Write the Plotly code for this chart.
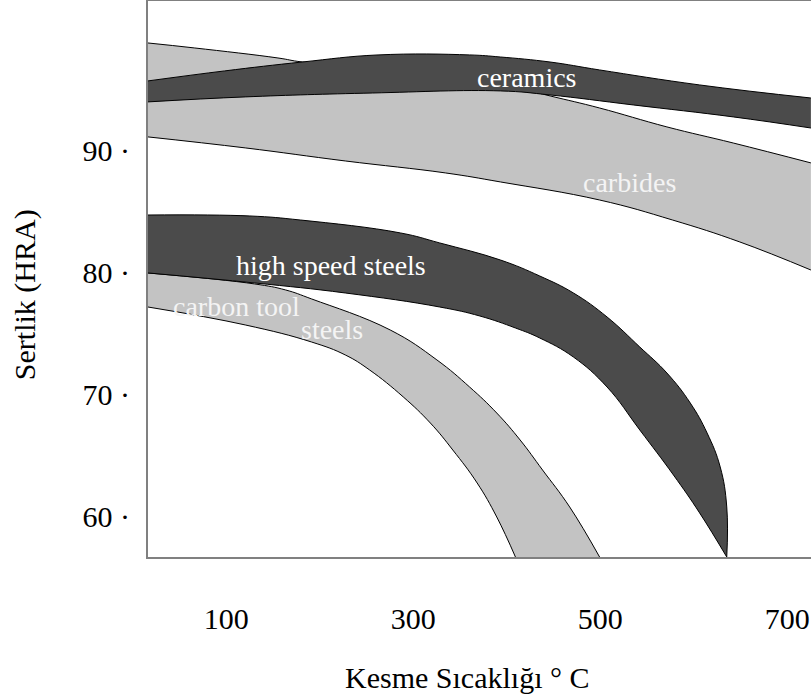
import plotly.graph_objects as go

# ---- data (temperature °C, hardness HRA) ----
carbides_top_t = [13, 63, 152, 178, 304, 390, 443, 496, 568, 639, 722]
carbides_top_h = [98.81, 98.40, 97.58, 97.25, 96.43, 95.45, 94.47, 93.48, 91.93, 90.61, 88.98]
carbides_bot_t = [13, 117, 224, 331, 390, 496, 574, 646, 722]
carbides_bot_h = [91.11, 90.21, 89.14, 88.16, 87.42, 85.94, 84.30, 82.50, 80.20]

ceramics_top_t = [13, 95, 178, 259, 357, 390, 443, 496, 603, 722]
ceramics_top_h = [95.70, 96.52, 97.25, 97.83, 97.83, 97.66, 97.25, 96.60, 95.37, 94.30]
ceramics_bot_t = [13, 117, 253, 390, 443, 532, 639, 722]
ceramics_bot_h = [93.98, 94.39, 94.71, 94.88, 94.55, 93.73, 92.75, 91.84]

hss_top_t = [13, 122, 176, 283, 325, 390, 432, 468, 504, 539, 568, 593, 611, 625, 632, 632]
hss_top_h = [84.71, 84.63, 84.30, 83.24, 82.42, 81.02, 79.71, 78.32, 76.35, 73.89, 71.76, 69.30, 66.84, 64.06, 60.78, 56.68]
hss_bot_t = [13, 127, 224, 325, 368, 406, 432, 468, 504, 539, 575, 603, 632]
hss_bot_h = [79.96, 79.14, 78.32, 77.17, 76.43, 75.45, 74.63, 73.07, 70.61, 67.09, 63.40, 60.29, 56.68]

carbon_top_t = [13, 127, 160, 188, 272, 322, 357, 386, 411, 435, 464, 496]
carbon_top_h = [79.96, 79.06, 78.57, 77.83, 75.29, 72.83, 70.61, 68.48, 66.27, 63.81, 60.78, 56.68]
carbon_bot_t = [13, 117, 188, 224, 250, 286, 315, 339, 365, 386, 406]
carbon_bot_h = [77.17, 75.70, 74.30, 73.24, 72.01, 69.80, 67.66, 65.45, 62.75, 59.96, 56.68]

band_labels = ["ceramics", "carbides", "high speed steels", "carbon tool", "steels"]
label_t = [418, 528, 209, 108, 210]
label_h = [96.02, 87.34, 80.61, 77.25, 75.29]

x_ticks = [100, 300, 500, 700]
y_ticks = [60, 70, 80, 90]

LIGHT = "#c3c3c3"
DARK = "#4b4b4b"
FONT = "Liberation Serif"

fig = go.Figure()


def band(tx, ty, bx, by, color):
    line = dict(color="black", width=1, shape="spline", smoothing=1.2)
    fig.add_trace(go.Scatter(x=tx, y=ty, mode="lines", line=line,
                             hoverinfo="skip", showlegend=False))
    fig.add_trace(go.Scatter(x=bx, y=by, mode="lines", line=line,
                             fill="tonexty", fillcolor=color,
                             hoverinfo="skip", showlegend=False))


band(carbides_top_t, carbides_top_h, carbides_bot_t, carbides_bot_h, LIGHT)
band(ceramics_top_t, ceramics_top_h, ceramics_bot_t, ceramics_bot_h, DARK)
band(carbon_top_t, carbon_top_h, carbon_bot_t, carbon_bot_h, LIGHT)
band(hss_top_t, hss_top_h, hss_bot_t, hss_bot_h, DARK)

label_colors = ["#ffffff", "#f4f4f4", "#ffffff", "#f4f4f4", "#f4f4f4"]
for name, t, h, c in zip(band_labels, label_t, label_h, label_colors):
    fig.add_annotation(x=t, y=h, text=name, showarrow=False,
                       font=dict(family=FONT, size=28, color=c),
                       xanchor="center", yanchor="middle")

# axis titles
fig.add_annotation(xref="paper", yref="paper", x=0.481, y=-0.216,
                   text="Kesme Sıcaklığı ° C", showarrow=False,
                   font=dict(family=FONT, size=30, color="black"),
                   xanchor="center", yanchor="middle")
fig.add_annotation(xref="paper", yref="paper", x=-0.1855, y=0.471,
                   text="Sertlik (HRA)", showarrow=False, textangle=-90,
                   font=dict(family=FONT, size=30, color="black"),
                   xanchor="center", yanchor="middle")

fig.update_layout(
    width=811, height=699,
    margin=dict(l=148, r=0, t=1, b=142),
    paper_bgcolor="white", plot_bgcolor="white",
    showlegend=False,
    xaxis=dict(range=[13, 722.1], tickvals=x_ticks,
               ticktext=[str(v) for v in x_ticks],
               ticks="", ticklabelstandoff=34, ticklabelshift=-3,
               ticklabeloverflow="allow",
               tickfont=dict(family=FONT, size=30, color="black"),
               showgrid=False, zeroline=False,
               showline=True, linecolor="#808080", linewidth=2, mirror=True),
    yaxis=dict(range=[56.68, 102.25], tickvals=y_ticks,
               ticktext=[f"{v}\u00a0·" for v in y_ticks],
               ticks="", ticklabelstandoff=10,
               tickfont=dict(family=FONT, size=30, color="black"),
               showgrid=False, zeroline=False,
               showline=True, linecolor="#808080", linewidth=2, mirror=False),
)

fig.write_html("out.html")
